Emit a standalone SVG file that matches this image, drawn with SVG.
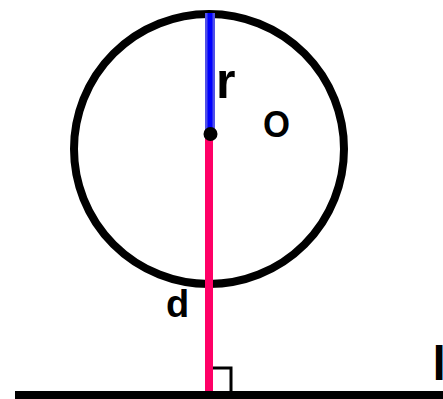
<svg xmlns="http://www.w3.org/2000/svg" width="443" height="399" viewBox="0 0 443 399">
<style>
.lbl{font-family:"Liberation Sans",Arial,sans-serif;font-weight:bold;fill:#000}
</style>
<rect width="443" height="399" fill="#fff"/>
<g id="circle"><circle cx="209" cy="149" r="135" fill="none" stroke="#000" stroke-width="8"/></g>
<g id="connectors">
<line x1="210" y1="13" x2="210" y2="133" stroke="#5050e8" stroke-width="10"/>
<line x1="210" y1="13" x2="210" y2="133" stroke="#0000ff" stroke-width="5"/>
<line x1="209" y1="138" x2="209" y2="396" stroke="#ff0066" stroke-width="8"/>
<polyline points="213,368 231,368 231,392" fill="none" stroke="#000" stroke-width="3"/>
</g>
<g id="line-l"><line x1="15" y1="395" x2="443" y2="395" stroke="#000" stroke-width="8"/></g>
<g id="center"><circle cx="210.5" cy="134" r="7" fill="#000"/></g>
<text class="lbl" x="216" y="98" font-size="50">r</text>
<text class="lbl" x="263" y="137" font-size="36" textLength="27" lengthAdjust="spacingAndGlyphs">O</text>
<text class="lbl" x="166" y="317" font-size="38">d</text>
<text class="lbl" x="432.5" y="380" font-size="48">l</text>
</svg>
